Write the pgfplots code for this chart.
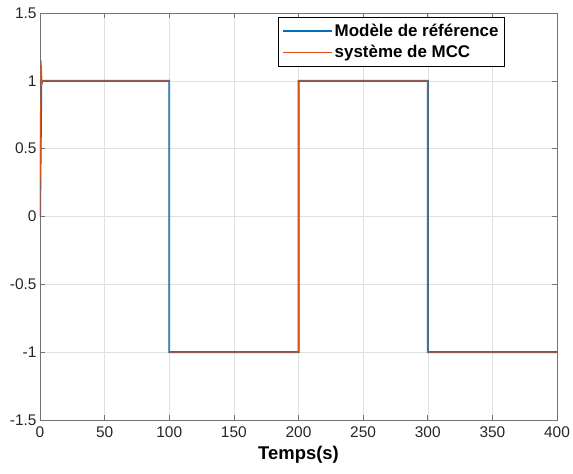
\documentclass[border=0pt]{standalone}
\usepackage{pgfplots}
\pgfplotsset{compat=1.18}
\usepackage{fontspec}
\setmainfont{Liberation Sans}
\definecolor{mblue}{rgb}{0,0.447,0.741}
\definecolor{morange}{rgb}{0.85,0.325,0.098}
\begin{document}
\begin{tikzpicture}
\begin{axis}[
  scale only axis,
  width=517bp, height=407bp,
  xmin=0, xmax=400, ymin=-1.5, ymax=1.5,
  xtick={0,50,...,400},
  ytick={-1.5,-1,-0.5,0,0.5,1,1.5},
  grid=major,
  grid style={draw=black!12, line width=0.5pt},
  axis line style={draw=black!55, line width=0.6pt},
  tick style={draw=black!55, line width=0.6pt},
  tick align=inside,
  major tick length=5bp,
  /pgf/number format/assume math mode=true,
  ticklabel style={font=\fontsize{15.5}{17}\selectfont, text=black!85},
  xticklabel style={yshift=-3bp},
  yticklabel style={xshift=0bp},
  xlabel={\textbf{Temps(s)}},
  xlabel style={font=\fontsize{18.5}{20}\selectfont, yshift=-2bp},
  legend style={at={(0.899,0.99)}, anchor=north east, draw=black, line width=0.6pt,
    font=\fontsize{17}{19}\selectfont\bfseries, inner xsep=4bp, inner ysep=5bp,
    row sep=3bp},
  legend cell align=left,
  legend image code/.code={\draw[#1] (0cm,0cm) -- (1.72cm,0cm);},
]
\addplot[draw=mblue, line width=2pt] coordinates {
(0,0) (1,1) (100,1) (100,-1) (200,-1) (200,1) (300,1) (300,-1) (400,-1)};
\addlegendentry{Modèle de référence}
\addplot[draw=morange, line width=1pt] coordinates {
(0,0) (0.8,1.15) (1.6,0.98) (2.5,1) (100,1) (100,-1) (200,-1) (200,1) (300,1) (300,-1) (400,-1)};
\addlegendentry{système de MCC}
\end{axis}
\pgfresetboundingbox
\path[use as bounding box] ([xshift=-40bp,yshift=-53bp]current axis.south west) rectangle ([xshift=16bp,yshift=13bp]current axis.north east);
\end{tikzpicture}
\end{document}
